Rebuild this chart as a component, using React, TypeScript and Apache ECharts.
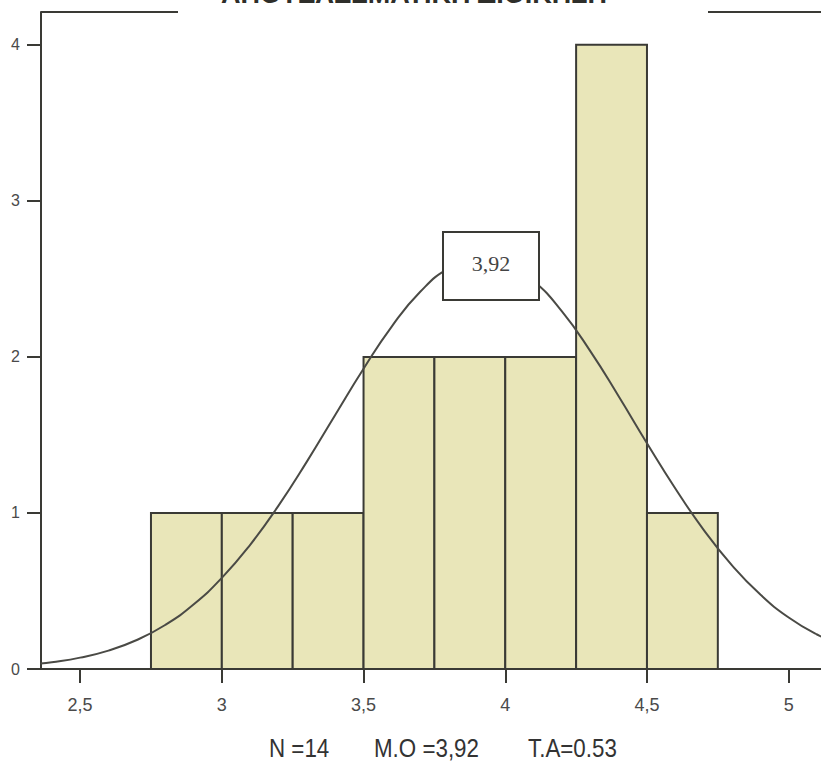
import React, { useEffect, useRef } from "react";
import * as echarts from "echarts";

const TITLE = "ΑΠΟΤΕΛΕΣΜΑΤΙΚΗ ΔΙΟΙΚΗΣΗ";
const binStarts = [2.75, 3.0, 3.25, 3.5, 3.75, 4.0, 4.25, 4.5];
const binWidth = 0.25;
const counts = [1, 1, 1, 2, 2, 2, 4, 1];
// normal curve points (x, frequency)
const curveX = [2.36, 2.4, 2.5, 2.6, 2.7, 2.8, 2.9, 3.0, 3.1, 3.2, 3.3, 3.4, 3.5, 3.6, 3.7, 3.8, 3.9, 4.0, 4.1, 4.2, 4.3, 4.4, 4.5, 4.6, 4.7, 4.8, 4.9, 5.0, 5.1, 5.2];
const curveY = [0.035, 0.043, 0.073, 0.118, 0.186, 0.282, 0.413, 0.584, 0.796, 1.047, 1.329, 1.628, 1.924, 2.196, 2.417, 2.567, 2.632, 2.604, 2.486, 2.291, 2.037, 1.748, 1.447, 1.157, 0.892, 0.664, 0.477, 0.33, 0.221, 0.143];
const xTicks = [2.5, 3, 3.5, 4, 4.5, 5];
const yTicks = [0, 1, 2, 3, 4];
const meanLabel = "3,92";
const stats = ["N =14", "M.O =3,92", "T.A=0.53"];

const INK = "#3a3a35";

export default function App() {
  const ref = useRef<HTMLDivElement>(null);
  useEffect(() => {
    if (!ref.current) return;
    const chart = echarts.init(ref.current, null, { renderer: "svg" });
    const barData = binStarts.map((s, i) => [s, s + binWidth, counts[i]]);
    const lineData = curveX.map((x, i) => [x, curveY[i]]);
    chart.setOption({
      animation: false,
      backgroundColor: "#ffffff",
      grid: { left: 41, right: 0, top: 12, bottom: 101, containLabel: false },
      xAxis: {
        type: "value",
        min: 2.362,
        max: 5.114,
        axisLine: { show: true, onZero: false, lineStyle: { color: INK, width: 2 } },
        axisTick: { show: true, length: 14, lineStyle: { color: INK, width: 2 }, customValues: xTicks },
        axisLabel: {
          color: "#4a4a4a",
          fontSize: 18,
          fontFamily: "'Liberation Sans', Arial, sans-serif",
          margin: 27,
          customValues: xTicks,
          formatter: (v: number) => String(v).replace(".", ","),
        },
        splitLine: { show: false },
      },
      yAxis: {
        type: "value",
        min: 0,
        max: 4.21,
        interval: 1,
        axisLine: { show: true, lineStyle: { color: INK, width: 2 } },
        axisTick: { show: true, length: 14, lineStyle: { color: INK, width: 2 }, customValues: yTicks },
        axisLabel: {
          color: "#4a4a4a",
          fontSize: 16,
          fontFamily: "'Liberation Sans', Arial, sans-serif",
          margin: 21,
          customValues: yTicks,
        },
        splitLine: { show: false },
      },
      series: [
        {
          type: "custom",
          data: barData,
          z: 2,
          renderItem: (params: any, api: any) => {
            const p0 = api.coord([api.value(0), api.value(2)]);
            const p1 = api.coord([api.value(1), 0]);
            return {
              type: "rect",
              shape: { x: p0[0], y: p0[1], width: p1[0] - p0[0], height: p1[1] - p0[1] },
              style: { fill: "#e9e6b9", stroke: INK, lineWidth: 2 },
            };
          },
          encode: { x: [0, 1], y: 2 },
        },
        {
          type: "line",
          data: lineData,
          smooth: true,
          showSymbol: false,
          symbol: "none",
          z: 3,
          lineStyle: { color: "#4a4a45", width: 2 },
        },
      ],
      graphic: [
        { type: "line", shape: { x1: 41, y1: 12, x2: 178, y2: 12 }, style: { stroke: INK, lineWidth: 2 }, z: 10 },
        { type: "line", shape: { x1: 708, y1: 12, x2: 821, y2: 12 }, style: { stroke: INK, lineWidth: 2 }, z: 10 },
        {
          type: "text",
          x: 414,
          y: 7,
          z: 10,
          style: {
            text: TITLE,
            fill: "#2e2e2a",
            font: "bold 27px 'Liberation Sans', Arial, sans-serif",
            align: "center",
            verticalAlign: "bottom",
          },
        },
        {
          type: "rect",
          z: 10,
          shape: { x: 443, y: 232, width: 96, height: 68 },
          style: { fill: "#ffffff", stroke: INK, lineWidth: 2 },
        },
        {
          type: "text",
          x: 491,
          y: 263,
          z: 11,
          style: {
            text: meanLabel,
            fill: "#444",
            font: "22px 'Liberation Serif', 'Times New Roman', serif",
            align: "center",
            verticalAlign: "middle",
          },
        },
        ...stats.map((s, i) => ({
          type: "text",
          x: [269, 374, 528][i],
          y: 748,
          z: 10,
          scaleX: 0.86,
          style: {
            text: s,
            fill: "#333",
            font: "26px 'Liberation Sans', Arial, sans-serif",
            align: "left",
            verticalAlign: "middle",
          },
        })),
      ],
    });
    return () => chart.dispose();
  }, []);
  return <div ref={ref} style={{ position: "fixed", left: 0, top: 0, width: 821, height: 770 }} />;
}
